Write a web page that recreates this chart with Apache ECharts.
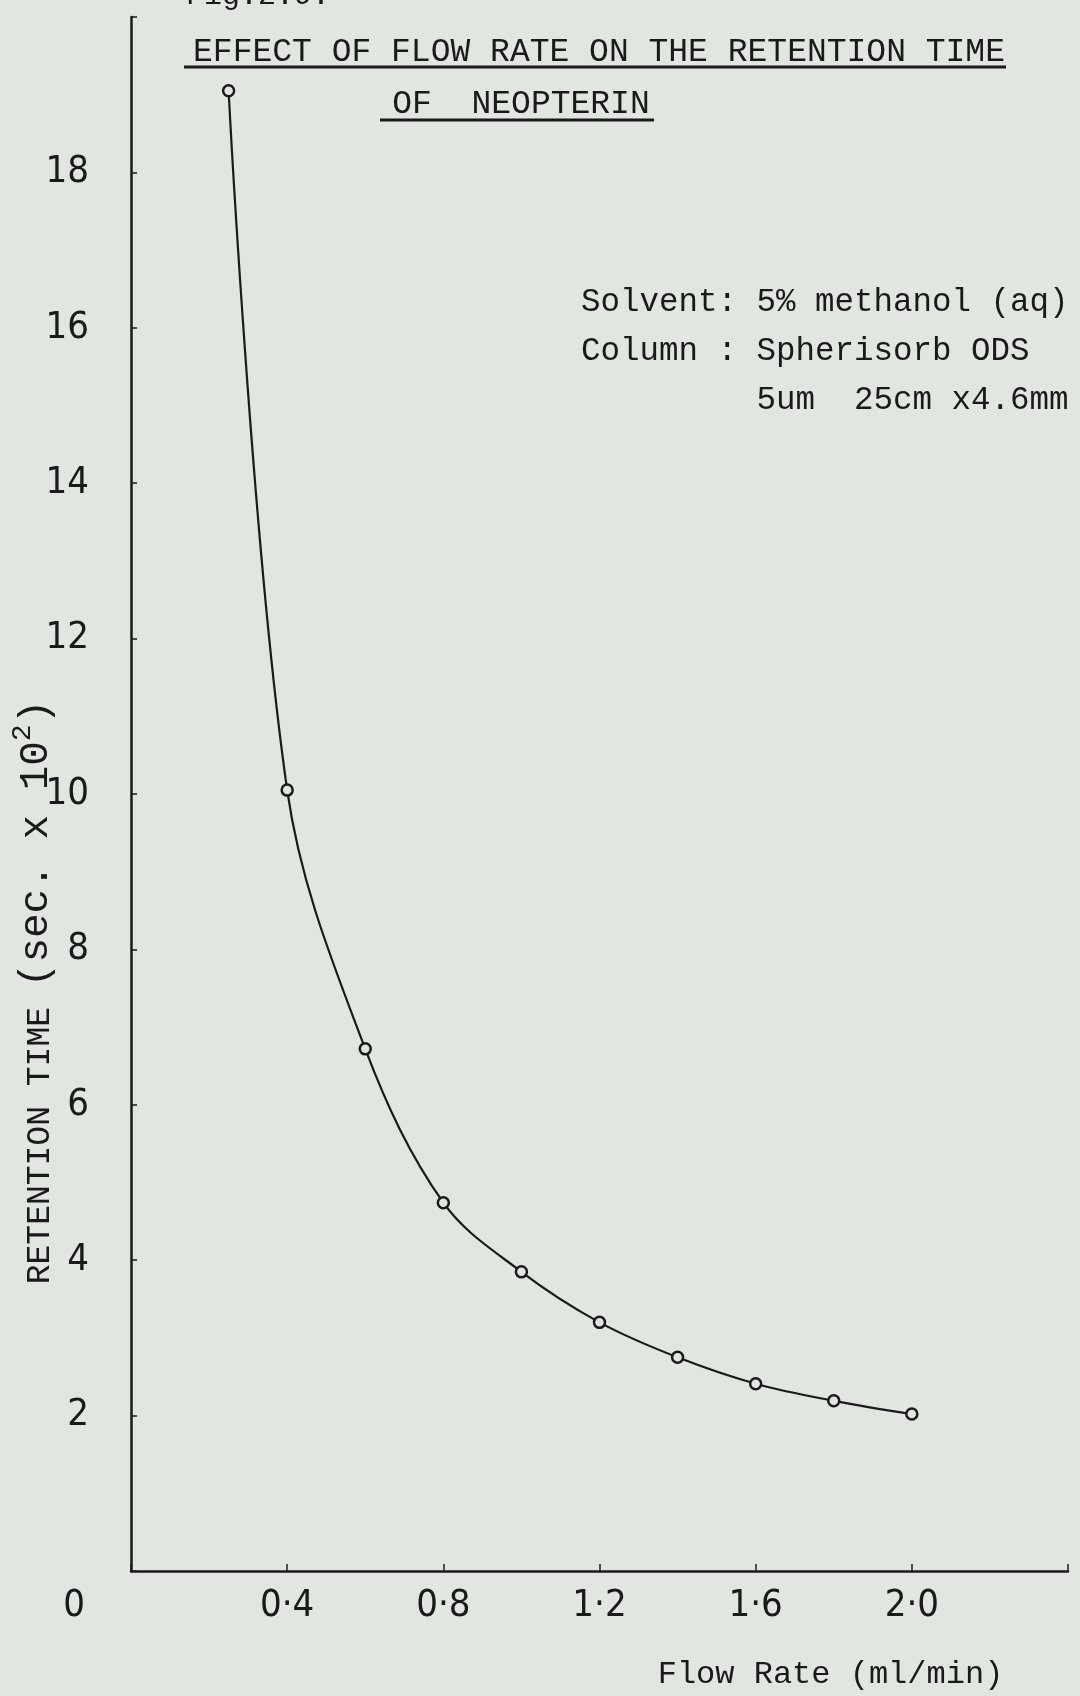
<!DOCTYPE html>
<html>
<head>
<meta charset="utf-8">
<script src="https://cdn.jsdelivr.net/npm/echarts@6/dist/echarts.min.js"></script>
<style>
html,body{margin:0;padding:0;background:#e1e7e0;}
#c{width:1080px;height:1696px;}
</style>
</head>
<body>
<div id="c"></div>
<script>
// Data
var flowRate = [0.25, 0.4, 0.6, 0.8, 1.0, 1.2, 1.4, 1.6, 1.8, 2.0];
var retentionTime = [19.05, 10.05, 6.72, 4.74, 3.85, 3.2, 2.75, 2.41, 2.19, 2.02];
var xTickLabels = {'0': '0', '0.4': '0·4', '0.8': '0·8', '1.2': '1·2', '1.6': '1·6', '2': '2·0'};
var yTickLabels = [2, 4, 6, 8, 10, 12, 14, 16, 18];
var titleLine1 = 'EFFECT OF FLOW RATE ON THE RETENTION TIME';
var titleLine2 = 'OF  NEOPTERIN';
var figLabel = 'Fig.2.9.';
var noteLines = ['Solvent: 5% methanol (aq)', 'Column : Spherisorb ODS', '         5um  25cm x4.6mm'];

var mono = '"Liberation Mono", "DejaVu Sans Mono", monospace';
var hand = '"Liberation Sans Narrow", "DejaVu Sans Condensed", "Liberation Sans", sans-serif';
var ink = '#1a1a1a';
var paper = '#e1e7e0';

var chart = echarts.init(document.getElementById('c'));
chart.setOption({
  backgroundColor: paper,
  animation: false,
  title: [
    {text: titleLine1, left: 594, top: 31, textAlign: 'center',
     textStyle: {fontFamily: mono, fontSize: 33, fontWeight: 'normal', color: ink}},
    {text: titleLine2, left: 516, top: 83, textAlign: 'center',
     textStyle: {fontFamily: mono, fontSize: 33, fontWeight: 'normal', color: ink}}
  ],
  graphic: [
    {type: 'line', shape: {x1: 184, y1: 67, x2: 1006, y2: 67}, style: {stroke: ink, lineWidth: 3}},
    {type: 'line', shape: {x1: 380, y1: 120, x2: 654, y2: 120}, style: {stroke: ink, lineWidth: 3}},
    {type: 'text', left: 186, top: -19, style: {text: figLabel, font: '30px ' + mono, fill: ink}},
    {type: 'text', left: 581, top: 278, style: {text: noteLines.join('\n'), font: '32.5px ' + mono, fill: ink, lineHeight: 49}}
  ],
  grid: {left: 131, right: 12, top: 17, bottom: 125, containLabel: false, outerBoundsMode: 'none'},
  xAxis: {
    type: 'value', min: 0, max: 2.4, interval: 0.4,
    name: 'Flow Rate (ml/min)', nameLocation: 'middle', nameGap: 88, nameMoveOverlap: false,
    nameTextStyle: {fontFamily: mono, fontSize: 32, color: ink, padding: [0, 0, 0, 462]},
    axisLine: {show: true, lineStyle: {color: ink, width: 2.5}},
    axisTick: {show: true, inside: true, length: 7, lineStyle: {color: ink, width: 1.5}},
    splitLine: {show: false},
    axisLabel: {
      margin: 16, color: ink, fontFamily: hand, fontSize: 38,
      formatter: function (v) {
        var k = String(Math.round(v * 10) / 10);
        if (k === '0') return '{zero|0}';
        return xTickLabels[k] || '';
      },
      rich: {zero: {fontFamily: hand, fontSize: 38, color: ink, padding: [0, 114, 0, 0]}}
    }
  },
  yAxis: {
    type: 'value', min: 0, max: 20, interval: 2,
    name: '{a|RETENTION TIME }{b|(sec. x 10}{s|2}{b|)}', nameLocation: 'middle', nameGap: 74, nameRotate: 90,
    nameMoveOverlap: false,
    nameTextStyle: {
      padding: [0, 396, 0, 0],
      rich: {
        a: {fontFamily: mono, fontSize: 33, color: ink, lineHeight: 48, verticalAlign: 'bottom'},
        b: {fontFamily: mono, fontSize: 41, color: ink, lineHeight: 48, verticalAlign: 'bottom'},
        s: {fontFamily: mono, fontSize: 28, color: ink, lineHeight: 48, verticalAlign: 'top'}
      }
    },
    axisLine: {show: true, lineStyle: {color: ink, width: 2.5}},
    axisTick: {show: true, inside: true, length: 6, lineStyle: {color: ink, width: 1.5}},
    splitLine: {show: false},
    axisLabel: {
      margin: 42, color: ink, fontFamily: hand, fontSize: 38,
      formatter: function (v) { return yTickLabels.indexOf(v) >= 0 ? String(v) : ''; }
    }
  },
  series: [{
    type: 'line',
    data: flowRate.map(function (x, i) { return [x, retentionTime[i]]; }),
    smooth: 0.35,
    symbol: 'circle', symbolSize: 11,
    itemStyle: {color: paper, borderColor: ink, borderWidth: 2.5},
    lineStyle: {color: ink, width: 2.2}
  }]
});
</script>
</body>
</html>
